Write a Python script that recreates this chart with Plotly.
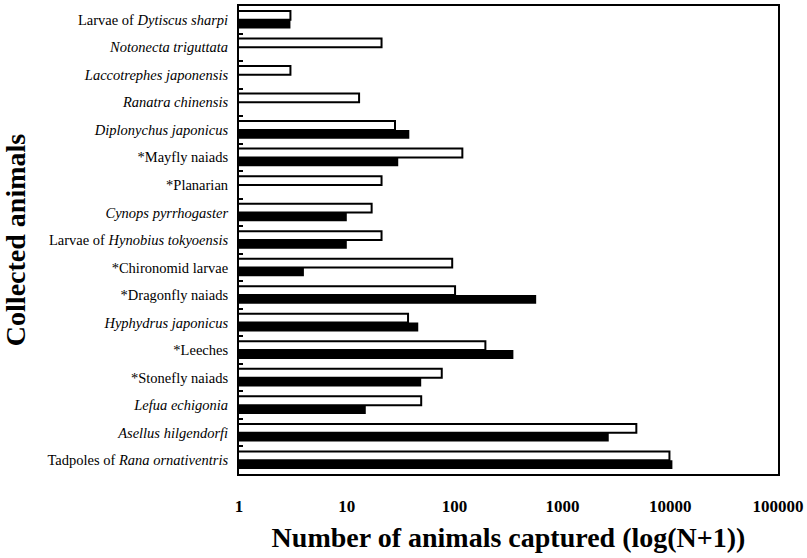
import plotly.graph_objects as go

# Collected animals, listed top to bottom as drawn
animals = [
    "Larvae of <i>Dytiscus sharpi</i>",
    "<i>Notonecta triguttata</i>",
    "<i>Laccotrephes japonensis</i>",
    "<i>Ranatra chinensis</i>",
    "<i>Diplonychus japonicus</i>",
    "*Mayfly naiads",
    "*Planarian",
    "<i>Cynops pyrrhogaster</i>",
    "Larvae of <i>Hynobius tokyoensis</i>",
    "*Chironomid larvae",
    "*Dragonfly naiads",
    "<i>Hyphydrus japonicus</i>",
    "*Leeches",
    "*Stonefly naiads",
    "<i>Lefua echigonia</i>",
    "<i>Asellus hilgendorfi</i>",
    "Tadpoles of <i>Rana ornativentris</i>",
]

# Number of animals captured (N) in the two surveys
counts_open = [2, 20, 2, 12, 27, 117, 20, 16, 20, 94, 100, 36, 192, 75, 48, 4850, 9840]
counts_filled = [2, 0, 0, 0, 37, 29, 0, 9, 9, 3, 570, 45, 350, 48, 14, 2690, 10480]

tick_values = [1, 10, 100, 1000, 10000, 100000]
tick_labels = ["1", "10", "100", "1000", "10000", "100000"]

serif = "Liberation Serif, Times New Roman, serif"

open_plot = [n + 1 for n in counts_open]
filled_plot = [n + 1 for n in counts_filled]

fig = go.Figure()
fig.add_trace(go.Bar(
    y=animals, x=open_plot, orientation="h",
    marker=dict(color="white", line=dict(color="black", width=2)),
    showlegend=False, hoverinfo="x+y",
))
fig.add_trace(go.Bar(
    y=animals, x=filled_plot, orientation="h",
    marker=dict(color="black", line=dict(color="black", width=0)),
    showlegend=False, hoverinfo="x+y",
))

fig.update_layout(
    width=807, height=558,
    margin=dict(l=239, r=29, t=6, b=84, autoexpand=False),
    paper_bgcolor="white", plot_bgcolor="white",
    barmode="group", bargap=0.36, bargroupgap=0.0,
    font=dict(family=serif, color="black"),
)

fig.update_xaxes(
    type="log", range=[0, 5],
    tickmode="array", tickvals=tick_values, ticktext=tick_labels,
    tickfont=dict(family=serif, size=17, color="black", weight="bold"),
    ticks="", ticklabelstandoff=16,
    showgrid=False, zeroline=False,
    showline=True, linecolor="black", linewidth=2, mirror=True,
    automargin=False,
    title=dict(
        text="<b>Number of animals captured (log(N+1))</b>",
        font=dict(family=serif, size=28, color="black"),
        standoff=12,
    ),
)

fig.update_yaxes(
    type="category", autorange="reversed",
    tickfont=dict(family=serif, size=14.5, color="black"),
    ticks="inside", tickson="boundaries", ticklen=4, tickwidth=2, tickcolor="black",
    ticklabelstandoff=6,
    showgrid=False, zeroline=False,
    showline=True, linecolor="black", linewidth=2, mirror=True,
    automargin=False,
    title=dict(
        text="<b>Collected animals</b>",
        font=dict(family=serif, size=28, color="black"),
        standoff=17,
    ),
)

fig.write_html("out.html")
